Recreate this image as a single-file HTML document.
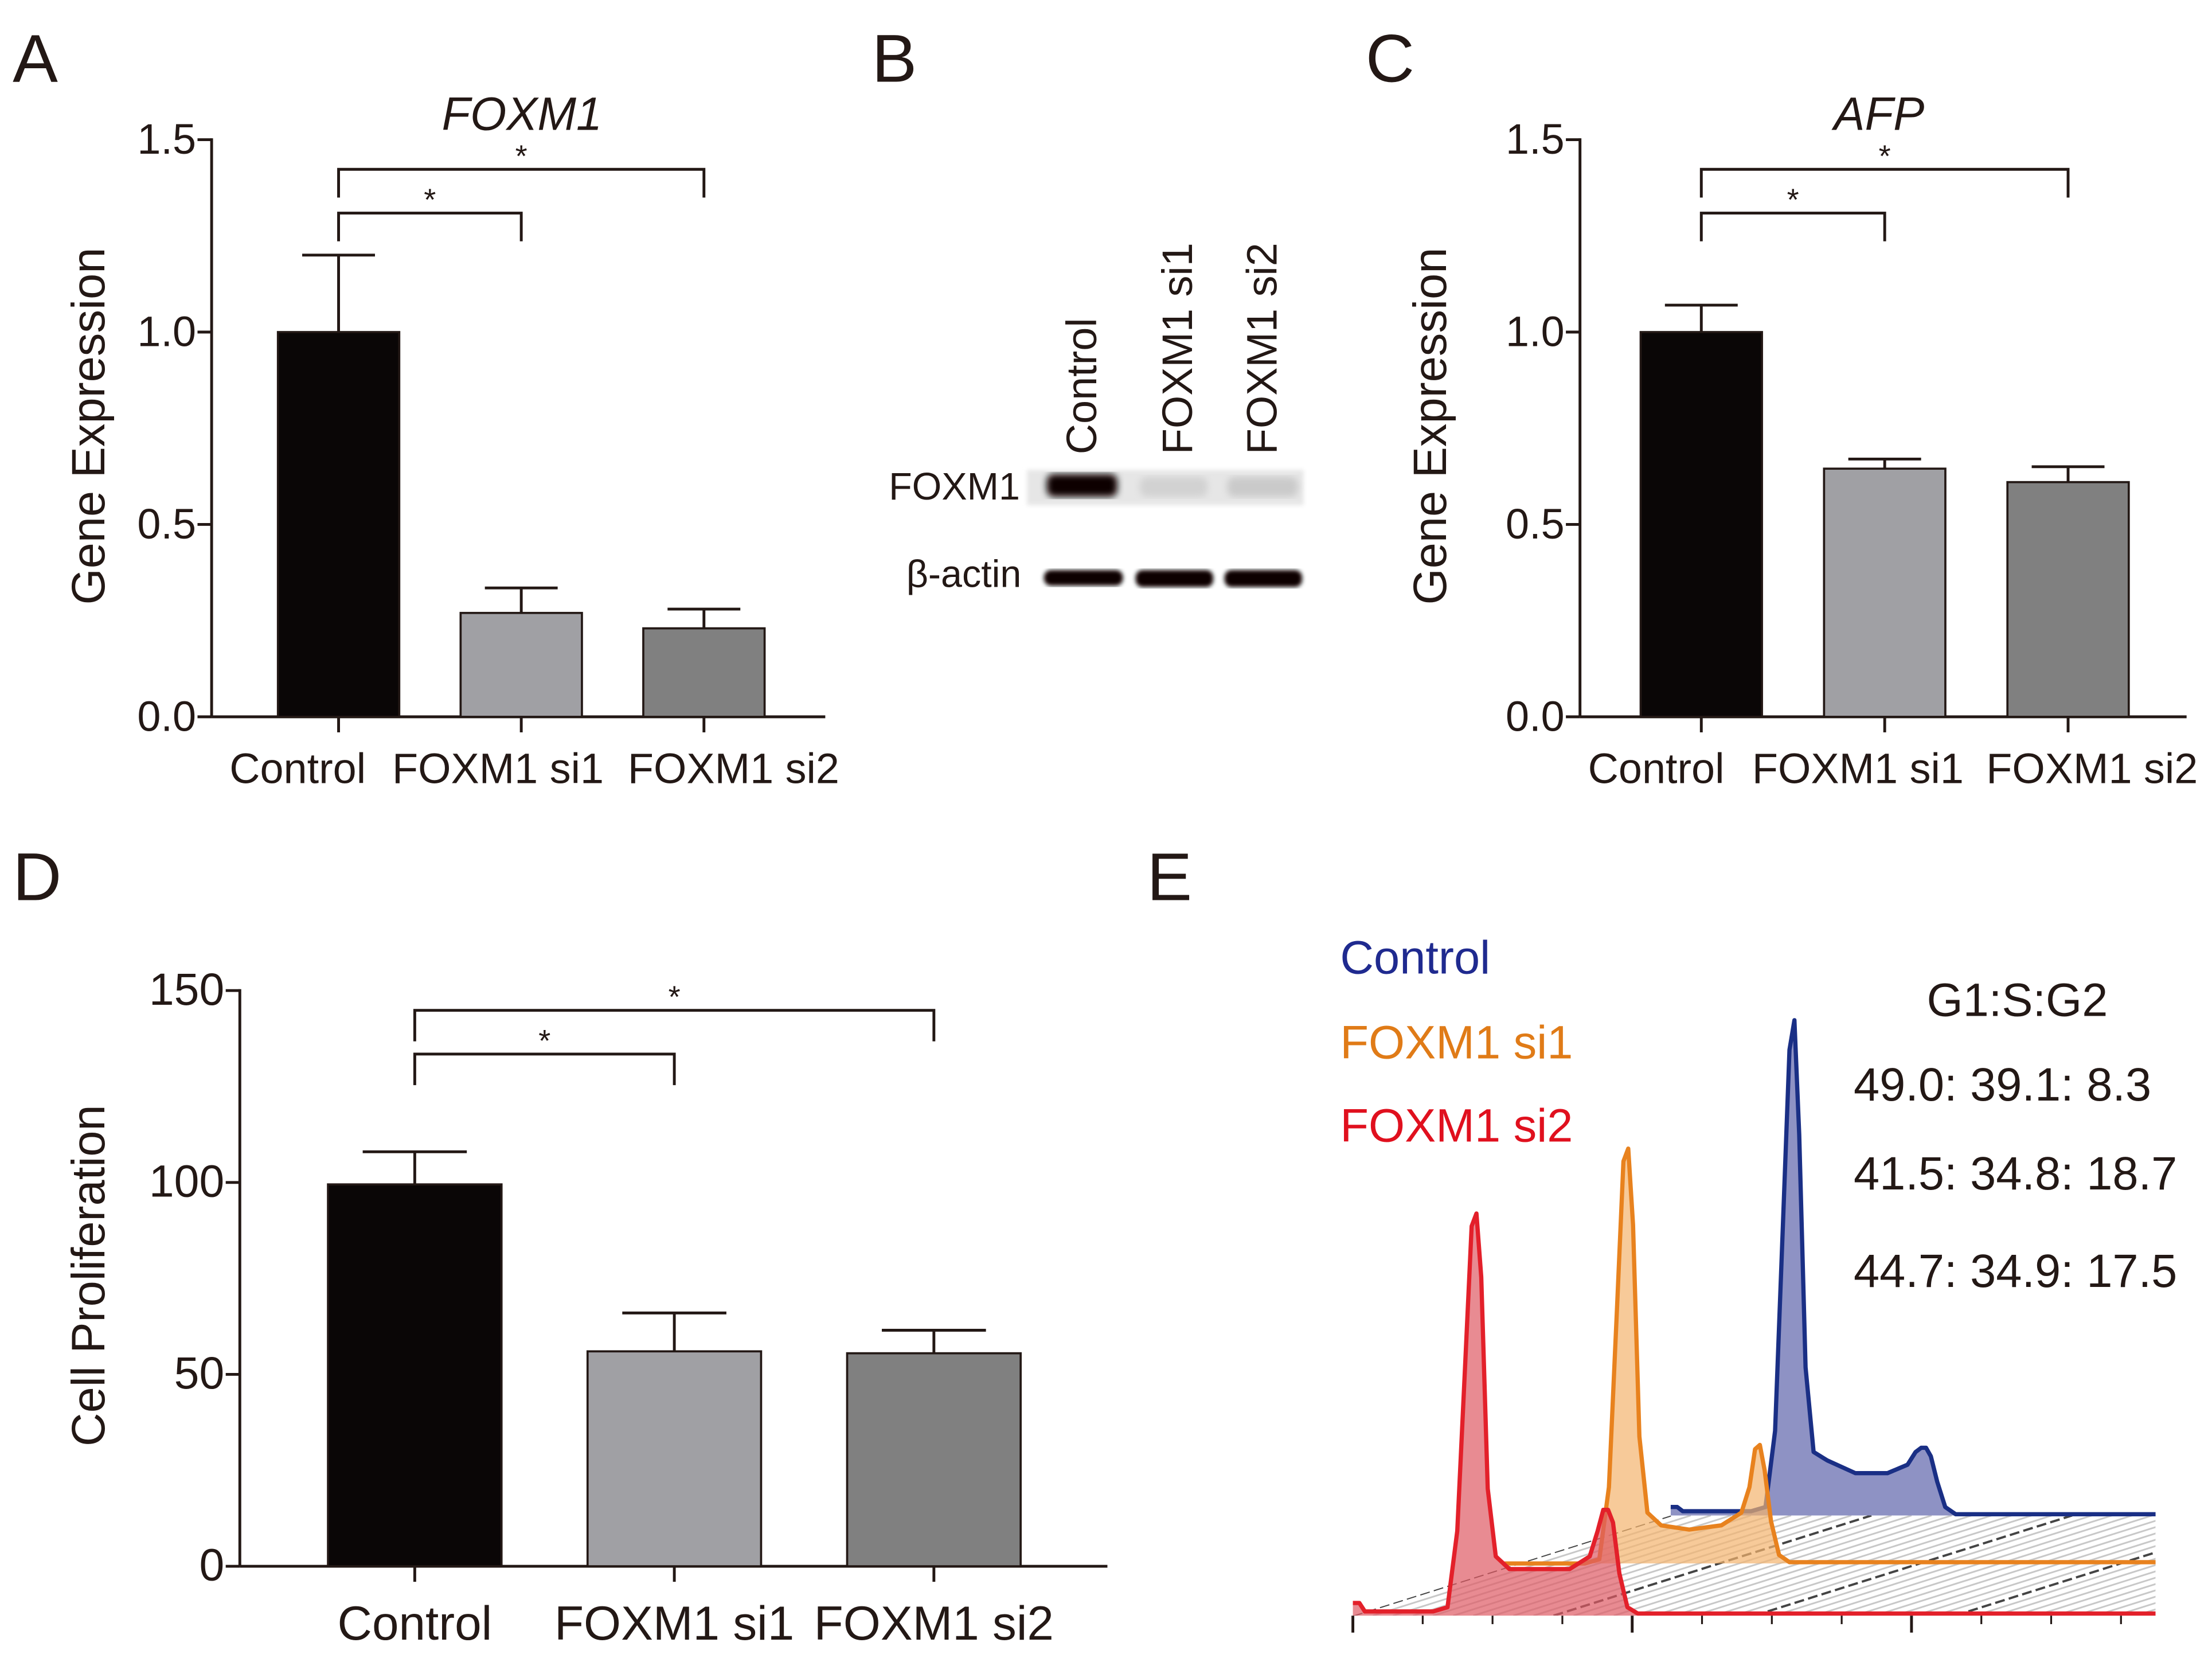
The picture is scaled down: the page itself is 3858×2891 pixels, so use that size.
<!DOCTYPE html>
<html><head><meta charset="utf-8"><style>
html,body{margin:0;padding:0;background:#fff}
svg{display:block}
text{font-family:"Liberation Sans",Arial,sans-serif;fill:#231815}
</style></head><body>
<svg id="fig" xmlns="http://www.w3.org/2000/svg" width="3858" height="2891" viewBox="0 0 1568 1175">
<rect width="1568" height="1175" fill="#fff"/>
<g font-size="48">
<text x="9" y="58">A</text>
<text x="618" y="58">B</text>
<text x="968" y="58">C</text>
<text x="9" y="638">D</text>
<text x="813" y="638">E</text>
</g>
<g id="pA"></g>
<g id="pC"></g>
<g id="pD"></g>

<!-- Western blot -->
<g>
<defs>
<filter id="blur2"><feGaussianBlur stdDeviation="2.5"/></filter>
<filter id="blur1"><feGaussianBlur stdDeviation="1.5"/></filter>
</defs>
<g font-size="30">
<text transform="translate(777,322) rotate(-90)">Control</text>
<text transform="translate(845,322) rotate(-90)">FOXM1 si1</text>
<text transform="translate(905,322) rotate(-90)">FOXM1 si2</text>
</g>
<text x="723" y="354" font-size="27" text-anchor="end">FOXM1</text>
<text x="724" y="416" font-size="27" text-anchor="end">β-actin</text>
<rect x="728" y="333" width="196" height="25" fill="#e6e6e6" filter="url(#blur1)"/>
<rect x="742" y="336" width="50" height="16" rx="5" fill="#0a0606" filter="url(#blur2)"/>
<rect x="808" y="338" width="48" height="14" rx="5" fill="#d2d2d2" filter="url(#blur2)"/>
<rect x="870" y="338" width="50" height="14" rx="5" fill="#cacaca" filter="url(#blur2)"/>
<rect x="740" y="404" width="56" height="11" rx="5" fill="#0a0606" filter="url(#blur1)"/>
<rect x="805" y="404" width="55" height="12" rx="5" fill="#0a0606" filter="url(#blur1)"/>
<rect x="868" y="404" width="55" height="12" rx="5" fill="#0a0606" filter="url(#blur1)"/>
</g>

<!-- Panel E -->
<g>
<g font-size="33">
<text x="950" y="690" style="fill:#1f2a8f">Control</text>
<text x="950" y="750" style="fill:#e07b17">FOXM1 si1</text>
<text x="950" y="809" style="fill:#e0101e">FOXM1 si2</text>
<text x="1430" y="720" text-anchor="middle">G1:S:G2</text>
<text x="1314" y="780">49.0: 39.1: 8.3</text>
<text x="1314" y="843">41.5: 34.8: 18.7</text>
<text x="1314" y="912">44.7: 34.9: 17.5</text>
</g>
<g id="floor"></g>
<g id="hist"></g>
</g>

<script>
// ---- bar chart data ----
const catsA = ["Control","FOXM1 si1","FOXM1 si2"];
const meanA = [1.0, 0.27, 0.23];
const errA = [0.20, 0.065, 0.05];
const ticksA = [0.0, 0.5, 1.0, 1.5];
const tickLabelsA = ["0.0","0.5","1.0","1.5"];

const catsC = ["Control","FOXM1 si1","FOXM1 si2"];
const meanC = [1.0, 0.645, 0.61];
const errC = [0.07, 0.025, 0.04];
const ticksC = [0.0, 0.5, 1.0, 1.5];
const tickLabelsC = ["0.0","0.5","1.0","1.5"];

const catsD = ["Control","FOXM1 si1","FOXM1 si2"];
const meanD = [99.5, 56, 55.5];
const errD = [8.5, 10, 6];
const ticksD = [0, 50, 100, 150];
const tickLabelsD = ["0","50","100","150"];

const barFills = ["#0a0606","#a0a0a4","#808080"];
const NS = "http://www.w3.org/2000/svg";
function mk(tag, attrs, parent){const e=document.createElementNS(NS,tag);for(const k in attrs)e.setAttribute(k,attrs[k]);parent.appendChild(e);return e;}

function barChart(g, o){
  const y = v => o.y0 - v/(o.vmax) * (o.y0 - o.y1);
  const cx = i => o.first + o.gap*i;
  let e = mk("line",{x1:o.x0,y1:o.y1-1,x2:o.x0,y2:o.y0,stroke:"#231815","stroke-width":2},g);
   
  e = mk("line",{x1:o.x0,y1:o.y0,x2:o.xEnd,y2:o.y0,stroke:"#231815","stroke-width":2},g);
   
  o.ticks.forEach((t,i)=>{
    let l = mk("line",{x1:o.x0-10,y1:y(t),x2:o.x0,y2:y(t),stroke:"#231815","stroke-width":2},g);
     
    let tx = mk("text",{x:o.x0-11,y:y(t)+10,"text-anchor":"end","font-size":o.fs},g);
    tx.textContent = o.tickLabels[i];
     
  });
  o.cats.forEach((c,i)=>{
    const x = cx(i);
    let eb = mk("path",{d:`M${x},${y(o.mean[i])} V${y(o.mean[i]+o.err[i])} M${x-o.bw*0.3},${y(o.mean[i]+o.err[i])} H${x+o.bw*0.3}`,stroke:"#231815","stroke-width":2,fill:"none"},g);
     
    let r = mk("rect",{x:x-o.bw/2,y:y(o.mean[i]),width:o.bw,height:o.y0-y(o.mean[i]),fill:barFills[i],stroke:"#231815","stroke-width":1.5},g);
     
    let tk = mk("line",{x1:x,y1:o.y0,x2:x,y2:o.y0+11,stroke:"#231815","stroke-width":2},g);
     
    let tl = mk("text",{x:o.labelX[i],y:o.y0+o.lblDy,"text-anchor":"middle","font-size":o.lfs},g);
    tl.textContent = c;
     
  });
  let yt = mk("text",{transform:`translate(${o.titleX},${o.titleY}) rotate(-90)`,"text-anchor":"middle","font-size":o.tfs},g);
  yt.textContent = o.ytitle;  
  if(o.title){let t = mk("text",{x:o.titleCx,y:o.y1-7,"text-anchor":"middle","font-size":33,"font-style":"italic"},g);
    t.textContent=o.title;  }
  const b = o.br;
  let p1 = mk("path",{d:`M${cx(0)},${b.top+b.drop} V${b.top} H${cx(2)} V${b.top+b.drop}`,stroke:"#231815","stroke-width":2,fill:"none"},g);
   
  let p2 = mk("path",{d:`M${cx(0)},${b.low+b.drop} V${b.low} H${cx(1)} V${b.low+b.drop}`,stroke:"#231815","stroke-width":2,fill:"none"},g);
   
  let s1 = mk("text",{x:(cx(0)+cx(2))/2,y:b.top-2,"text-anchor":"middle","font-size":22},g); s1.textContent="*";
   
  let s2 = mk("text",{x:(cx(0)+cx(1))/2,y:b.low-2,"text-anchor":"middle","font-size":22},g); s2.textContent="*";
   
}

barChart(document.getElementById('pA'),{cats:catsA,mean:meanA,err:errA,ticks:ticksA,tickLabels:tickLabelsA,
  x0:150,xEnd:585,first:240,gap:129.5,y0:508,y1:99,vmax:1.5,bw:86,fs:30,lfs:30,lblDy:47,tfs:33,titleX:74,titleY:302,
  ytitle:"Gene Expression",title:"FOXM1",titleCx:370,br:{top:120,low:151,drop:20},labelX:[211,353,520]});
barChart(document.getElementById('pC'),{cats:catsC,mean:meanC,err:errC,ticks:ticksC,tickLabels:tickLabelsC,
  x0:1120,xEnd:1550,first:1206,gap:130,y0:508,y1:99,vmax:1.5,bw:86,fs:30,lfs:30,lblDy:47,tfs:33,titleX:1025,titleY:302,
  ytitle:"Gene Expression",title:"AFP",titleCx:1332,br:{top:120,low:151,drop:20},labelX:[1174,1317,1483]});
barChart(document.getElementById('pD'),{cats:catsD,mean:meanD,err:errD,ticks:ticksD,tickLabels:tickLabelsD,
  x0:170,xEnd:785,first:294,gap:184,y0:1110,y1:702,vmax:150,bw:123,fs:32,lfs:34,lblDy:52,tfs:33,titleX:74,titleY:904,
  ytitle:"Cell Proliferation",title:null,br:{top:716,low:747,drop:22},labelX:[294,478,662]});

// ---- flow cytometry histogram data ----
const channels = [0,8,15,100,118,130,140,148,154,160,168,178,195,230,270,295,305,312,318,324,332,342,355,380,1000];
const countsSi2 = [3,3,1,1,2,20,60,92,95,80,30,14,11,11,11,14,20,25,25,22,10,2,0.5,0.5,0.5];
const countsSi1 = [0,0,0,0,1,18,60,95,98,80,30,12,9,8,9,12,18,27,28,22,10,2,0.3,0.3,0.3];
const countsCtl = [2,2,1,1,2,20,70,110,117,90,35,15,13,10,10,12,15,16,16,14,8,2,0.3,0.3,0.3];

const hx0 = 959, hy0 = 1145, pxPerCh = 0.569, pxPerCount = 3.0, xClip = 1528;
const layers = [
  {name:"control", counts:countsCtl, shift:396, dy:-71, stroke:"#1a2f85", fill:"rgba(110,115,180,0.78)"},
  {name:"si1", counts:countsSi1, shift:189, dy:-37, stroke:"#e8821e", fill:"rgba(243,180,110,0.7)"},
  {name:"si2", counts:countsSi2, shift:0, dy:0, stroke:"#e3202a", fill:"rgba(222,90,100,0.7)"}
];
const hxs = (ch, L) => hx0 + (ch + L.shift) * pxPerCh;
const hys = (c, L) => hy0 + L.dy - c * pxPerCount;

const fig = document.getElementById('fig');
let fcp = mk("clipPath",{id:"floorclip"},fig);
mk("polygon",{points:`${hx0},${hy0} ${hx0+396*pxPerCh},${hy0-71} ${xClip},${hy0-71} ${xClip},${hy0}`},fcp);
const floor = document.getElementById('floor');
floor.setAttribute('clip-path','url(#floorclip)');
for(let c=-400;c<=1000;c+=25){
  const xa = hx0 + c*pxPerCh, xb = xa + 396*pxPerCh;
  const major = (c % 250 === 0);
  let l = mk("line",{x1:xa,y1:hy0,x2:xb,y2:hy0-71,stroke:major?"#444":"#c8c8c8","stroke-width":major?1.6:1.2,"stroke-dasharray":major?"7,3":"none"},floor);
   
}
let cp = mk("clipPath",{id:"hclip"},fig);
mk("rect",{x:hx0-2,y:600,width:xClip-hx0+2,height:560},cp);

const hist = document.getElementById('hist');
hist.setAttribute('clip-path','url(#hclip)');
layers.forEach(L=>{
  let pts = channels.map((ch,i)=>`${hxs(ch,L).toFixed(1)},${hys(L.counts[i],L).toFixed(1)}`);
  const d = "M" + pts.join(" L");
  const area = d + ` L${hxs(1000,L)},${hys(0,L)} L${hxs(0,L)},${hys(0,L)} Z`;
  let a = mk("path",{d:area,fill:L.fill,stroke:"none"},hist);
   
  let ln = mk("path",{d:d,fill:"none",stroke:L.stroke,"stroke-width":3,"stroke-linejoin":"round"},hist);
   
});
for(let k=0;k<=12;k++){
  const x = hx0 + k*49.5;
  if(x>xClip) break;
  const major = (k%4===0);
  let t = mk("line",{x1:x,y1:hy0,x2:x,y2:hy0+(major?12:6),stroke:"#231815","stroke-width":major?2:1.3},fig);
   
}
</script>
</svg>
</body></html>
